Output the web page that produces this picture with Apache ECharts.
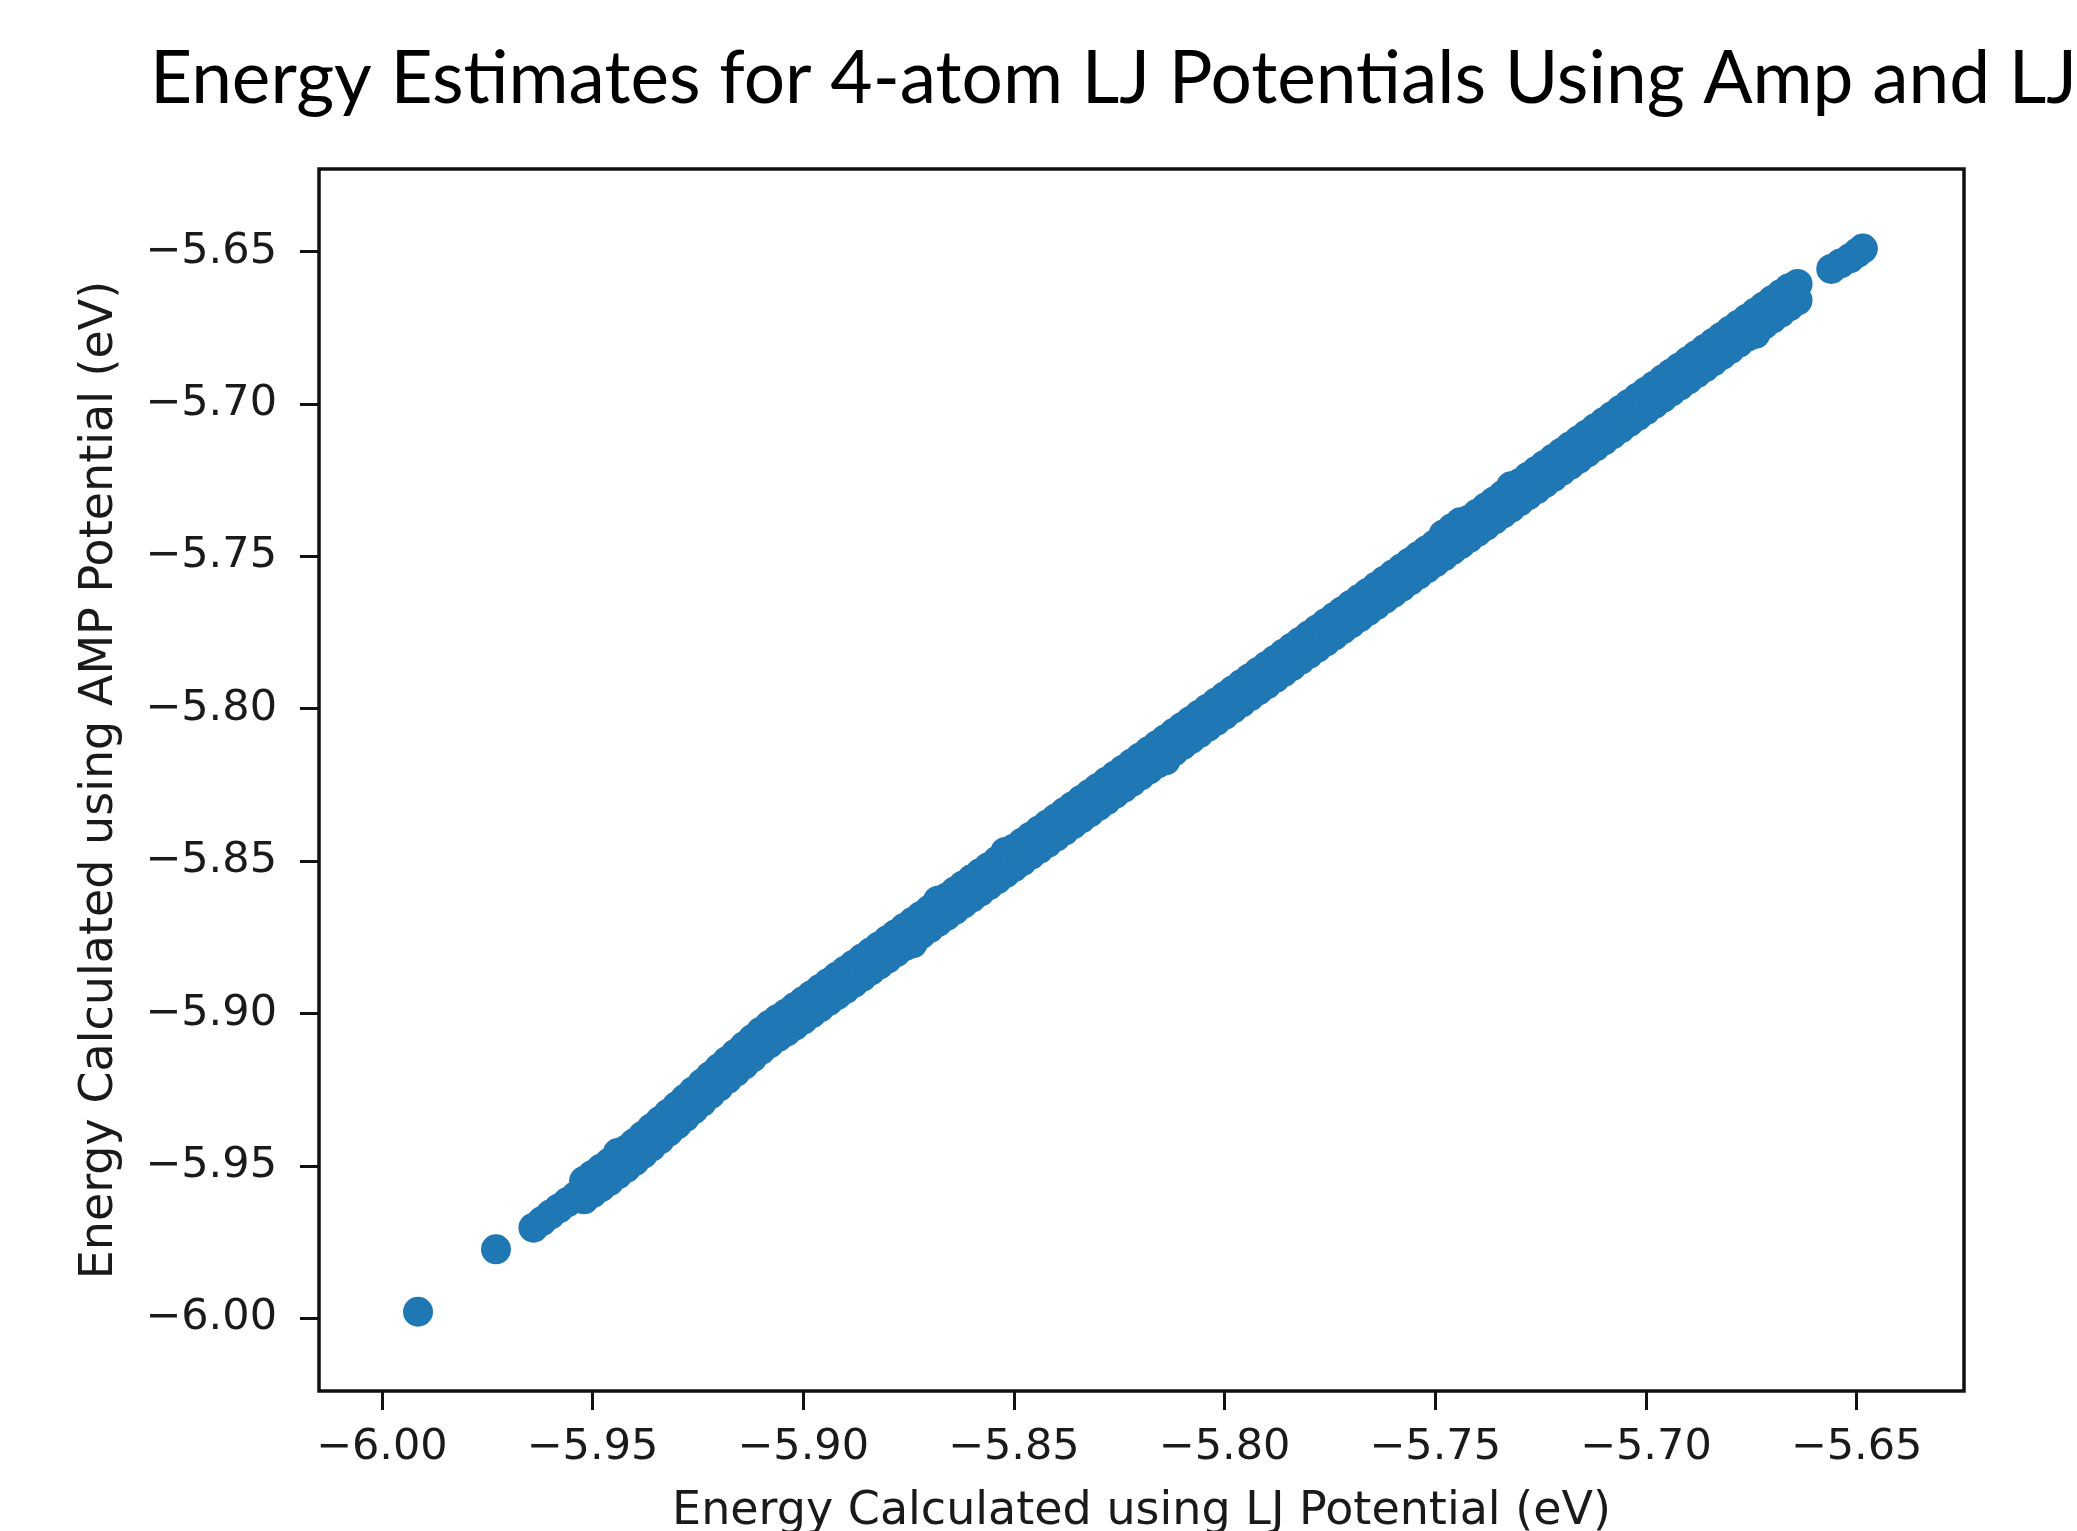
<!DOCTYPE html>
<html>
<head>
<meta charset="utf-8">
<script src="https://cdn.jsdelivr.net/npm/echarts@6/dist/echarts.min.js"></script>
<style>
html,body{margin:0;padding:0;background:#fff;}
#chart{width:2077px;height:1531px;}
</style>
</head>
<body>
<div id="chart"></div>
<script>
const titleText = "Energy Estimates for 4-atom LJ Potentials Using Amp and LJ";
const xName = "Energy Calculated using LJ Potential (eV)";
const yName = "Energy Calculated using AMP Potential (eV)";
const xTicks = [-6.00, -5.95, -5.90, -5.85, -5.80, -5.75, -5.70, -5.65];
const yTicks = [-6.00, -5.95, -5.90, -5.85, -5.80, -5.75, -5.70, -5.65];

// Sparse points at the two ends of the cloud (LJ energy, AMP energy)
const ljSparse = [-5.9914,-5.9729,-5.964,-5.962,-5.960,-5.958,-5.956,-5.954,
                  -5.6560,-5.6538,-5.6516,-5.6498,-5.6485];
const ampSparse = [-5.9979,-5.9774,-5.9703,-5.9682,-5.9660,-5.9640,-5.9620,-5.9600,
                   -5.6557,-5.6539,-5.6522,-5.6504,-5.6490];

// Dense band: LJ energy with the upper and lower AMP energies of the band
const ljBand = [
-5.952,-5.950,-5.948,-5.946,-5.944,-5.942,-5.940,-5.938,-5.936,-5.934,-5.932,-5.930,
-5.928,-5.926,-5.924,-5.922,-5.920,-5.918,-5.916,-5.914,-5.912,-5.910,-5.908,-5.906,
-5.904,-5.902,-5.900,-5.898,-5.896,-5.894,-5.892,-5.890,-5.888,-5.886,
-5.884,-5.882,-5.880,-5.878,-5.876,-5.874,-5.872,-5.870,-5.868,-5.866,
-5.864,-5.862,-5.860,-5.858,-5.856,-5.854,-5.852,-5.850,-5.848,-5.846,
-5.844,-5.842,-5.840,-5.838,-5.836,-5.834,-5.832,-5.830,-5.828,-5.826,
-5.824,-5.822,-5.820,-5.818,-5.816,-5.814,-5.812,-5.810,-5.808,-5.806,
-5.804,-5.802,-5.800,-5.798,-5.796,-5.794,-5.792,-5.790,-5.788,-5.786,
-5.784,-5.782,-5.780,-5.778,-5.776,-5.774,-5.772,-5.770,-5.768,-5.766,
-5.764,-5.762,-5.760,-5.758,-5.756,-5.754,-5.752,-5.750,-5.748,-5.746,
-5.744,-5.742,-5.740,-5.738,-5.736,-5.734,-5.732,-5.730,-5.728,-5.726,
-5.724,-5.722,-5.720,-5.718,-5.716,-5.714,-5.712,-5.710,-5.708,-5.706,
-5.704,-5.702,-5.700,-5.698,-5.696,-5.694,-5.692,-5.690,-5.688,-5.686,
-5.684,-5.682,-5.680,-5.678,-5.676,-5.674,-5.672,-5.670,-5.668,-5.666,
-5.664
];
const ampBandUpper = [
-5.9550,-5.9530,-5.9510,-5.9490,-5.9458,-5.9447,-5.9425,-5.9401,-5.9377,-5.9353,-5.9329,-5.9305,
-5.9280,-5.9255,-5.9230,-5.9205,-5.9180,-5.9156,-5.9132,-5.9108,-5.9084,-5.9060,-5.9038,-5.9018,
-5.9000,-5.8980,-5.8960,-5.8940,-5.8920,-5.8900,-5.8880,-5.8860,-5.8840,-5.8820,
-5.8800,-5.8780,-5.8760,-5.8740,-5.8720,-5.8700,-5.8680,-5.8660,-5.8630,-5.8620,
-5.8600,-5.8580,-5.8560,-5.8540,-5.8520,-5.8500,-5.8470,-5.8460,-5.8440,-5.8420,
-5.8400,-5.8380,-5.8360,-5.8340,-5.8320,-5.8300,-5.8280,-5.8260,-5.8240,-5.8220,
-5.8200,-5.8180,-5.8160,-5.8140,-5.8120,-5.8100,-5.8080,-5.8060,-5.8040,-5.8020,
-5.8000,-5.7980,-5.7960,-5.7940,-5.7920,-5.7900,-5.7880,-5.7860,-5.7840,-5.7820,
-5.7800,-5.7780,-5.7760,-5.7740,-5.7720,-5.7700,-5.7680,-5.7660,-5.7640,-5.7620,
-5.7600,-5.7580,-5.7560,-5.7540,-5.7520,-5.7500,-5.7480,-5.7460,-5.7428,-5.7408,
-5.7388,-5.7380,-5.7360,-5.7340,-5.7320,-5.7300,-5.7270,-5.7260,-5.7240,-5.7220,
-5.7200,-5.7180,-5.7160,-5.7140,-5.7120,-5.7100,-5.7080,-5.7060,-5.7040,-5.7020,
-5.7000,-5.6980,-5.6960,-5.6940,-5.6920,-5.6900,-5.6880,-5.6860,-5.6840,-5.6820,
-5.6800,-5.6780,-5.6760,-5.6740,-5.6720,-5.6700,-5.6680,-5.6660,-5.6640,-5.6620,
-5.6606
];
const ampBandLower = [
-5.9610,-5.9590,-5.9570,-5.9550,-5.9528,-5.9507,-5.9485,-5.9461,-5.9437,-5.9413,-5.9389,-5.9365,
-5.9340,-5.9315,-5.9290,-5.9265,-5.9240,-5.9216,-5.9192,-5.9168,-5.9144,-5.9120,-5.9098,-5.9078,
-5.9060,-5.9040,-5.9020,-5.9000,-5.8980,-5.8960,-5.8940,-5.8920,-5.8900,-5.8880,
-5.8860,-5.8840,-5.8820,-5.8800,-5.8780,-5.8770,-5.8740,-5.8720,-5.8700,-5.8680,
-5.8660,-5.8640,-5.8620,-5.8600,-5.8580,-5.8560,-5.8540,-5.8520,-5.8500,-5.8480,
-5.8460,-5.8440,-5.8420,-5.8400,-5.8380,-5.8360,-5.8340,-5.8320,-5.8300,-5.8280,
-5.8260,-5.8240,-5.8220,-5.8200,-5.8180,-5.8170,-5.8140,-5.8120,-5.8100,-5.8080,
-5.8060,-5.8040,-5.8020,-5.8000,-5.7980,-5.7960,-5.7940,-5.7920,-5.7900,-5.7880,
-5.7860,-5.7840,-5.7820,-5.7800,-5.7780,-5.7760,-5.7740,-5.7720,-5.7700,-5.7680,
-5.7660,-5.7640,-5.7620,-5.7600,-5.7580,-5.7560,-5.7540,-5.7520,-5.7500,-5.7480,
-5.7460,-5.7440,-5.7420,-5.7400,-5.7380,-5.7360,-5.7340,-5.7320,-5.7300,-5.7280,
-5.7260,-5.7240,-5.7220,-5.7200,-5.7180,-5.7160,-5.7140,-5.7120,-5.7100,-5.7080,
-5.7060,-5.7040,-5.7020,-5.7000,-5.6980,-5.6960,-5.6940,-5.6920,-5.6900,-5.6880,
-5.6860,-5.6840,-5.6820,-5.6800,-5.6780,-5.6770,-5.6740,-5.6720,-5.6700,-5.6680,
-5.6660
];

const points = [];
ljSparse.forEach((x, i) => points.push([x, ampSparse[i]]));
ljBand.forEach((x, i) => { points.push([x, ampBandUpper[i]]); points.push([x, ampBandLower[i]]); });

const fmt = v => (v < 0 ? '\u2212' : '') + Math.abs(v).toFixed(2);

const chart = echarts.init(document.getElementById('chart'), null, {renderer: 'canvas'});
const tickFont = {fontFamily: 'DejaVu Sans', fontSize: 43, color: '#1a1a1a'};

chart.setOption({
  animation: false,
  backgroundColor: '#ffffff',
  title: {
    text: titleText,
    left: 145,
    top: 38,
    textStyle: {fontFamily: 'Lato', fontSize: 73, fontWeight: 'normal', color: '#000'}
  },
  grid: {
    left: 319, top: 169, right: 113, bottom: 140,
    containLabel: false,
    outerBoundsMode: 'none',
    show: true, borderColor: '#111', borderWidth: 3.5, backgroundColor: 'transparent'
  },
  xAxis: {
    type: 'value',
    min: -6.0149, max: -5.6245,
    name: xName,
    nameLocation: 'middle',
    nameGap: 98,
    nameTextStyle: {fontFamily: 'DejaVu Sans', fontSize: 46, color: '#1a1a1a'},
    axisLine: {show: false},
    splitLine: {show: false},
    axisTick: {show: true, inside: false, length: 19, customValues: xTicks, lineStyle: {color: '#111', width: 3}},
    axisLabel: Object.assign({margin: 35, customValues: xTicks, formatter: fmt}, tickFont)
  },
  yAxis: {
    type: 'value',
    min: -6.0239, max: -5.6229,
    name: yName,
    nameLocation: 'middle',
    nameGap: 196,
    nameTextStyle: {fontFamily: 'DejaVu Sans', fontSize: 46, color: '#1a1a1a'},
    axisLine: {show: false},
    splitLine: {show: false},
    axisTick: {show: true, inside: false, length: 19, customValues: yTicks, lineStyle: {color: '#111', width: 3}},
    axisLabel: Object.assign({margin: 42, customValues: yTicks, formatter: fmt}, tickFont)
  },
  series: [{
    type: 'scatter',
    data: points,
    symbol: 'circle',
    symbolSize: 30,
    itemStyle: {color: '#1f77b4', opacity: 1},
    emphasis: {disabled: true},
    large: false,
    progressive: 0
  }]
});
</script>
</body>
</html>
